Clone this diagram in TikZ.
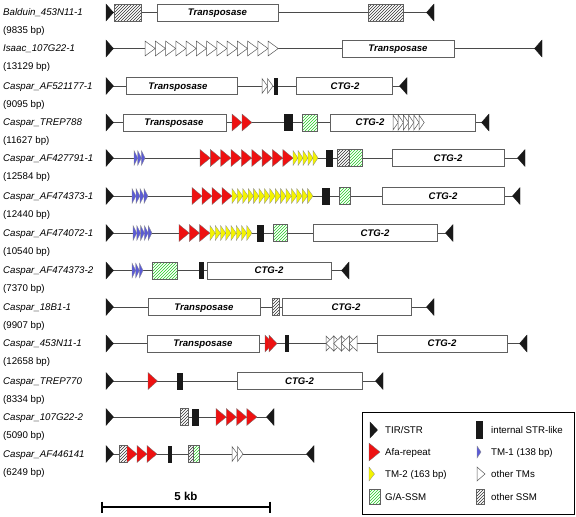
\documentclass[tikz,border=0pt]{standalone}
\usepackage{fontspec}
\setmainfont{Liberation Sans}
\usetikzlibrary{patterns}
\definecolor{afared}{HTML}{EE1111}
\definecolor{tmblue}{HTML}{5B5BD6}
\definecolor{tmyellow}{HTML}{F4F400}
\definecolor{ssmgreen}{HTML}{22CC22}
\definecolor{lineg}{HTML}{4A4A4A}
\definecolor{boxg}{HTML}{606060}
\tikzset{
  backbone/.style={draw=lineg, line width=0.8pt},
  genebox/.style={draw=boxg, fill=white, line width=0.8pt},
  tirshape/.style={fill=black!90, draw=black!90, line width=0.3pt},
  afa/.style={fill=afared, draw=black!55, line width=0.3pt},
  tmone/.style={fill=tmblue, draw=black!45, line width=0.3pt},
  tmtwo/.style={fill=tmyellow, draw=black!45, line width=0.3pt},
  tmother/.style={fill=white, draw=black!65, line width=0.5pt},
  strbar/.style={fill=black!90},
  namelabel/.style={font=\fontsize{9.7}{11}\selectfont\itshape, anchor=base west, inner sep=0pt},
  bplabel/.style={font=\fontsize{9.7}{11}\selectfont, anchor=base west, inner sep=0pt},
  boxtext/.style={font=\fontsize{9.6}{11}\selectfont\bfseries\itshape, anchor=base, inner sep=0pt},
  legtext/.style={font=\fontsize{9.7}{11}\selectfont, anchor=base west, inner sep=0pt},
  scaletext/.style={font=\fontsize{11.5}{13}\selectfont\bfseries, anchor=base, inner sep=0pt},
}
% right-pointing run: style, x0, y, n, w, h
\newcommand{\trirun}[6]{%
  \foreach \k in {1,...,#4}{%
    \path[#1] ({#2+(\k-1)*#5},{#3-#6/2}) -- ({#2+\k*#5},{#3}) -- ({#2+(\k-1)*#5},{#3+#6/2}) -- cycle;
  }%
}
% left-pointing run
\newcommand{\trirunL}[6]{%
  \foreach \k in {1,...,#4}{%
    \path[#1] ({#2+(\k-1)*#5},{#3}) -- ({#2+\k*#5},{#3-#6/2}) -- ({#2+\k*#5},{#3+#6/2}) -- cycle;
  }%
}
% gene box: name, x1, x2, y, text x, text
\newcommand{\genebox}[6]{%
  \draw[genebox] ({#2},{#4-8.5}) rectangle ({#3},{#4+8.5});
  \node[boxtext] (#1) at ({#5},{#4+3.4}) {#6};
}
% hatched box: x1, x2, y, colour, half height
\newcommand{\ssmbox}[5]{%
  \fill[white] ({#1},{#3-#5}) rectangle ({#2},{#3+#5});
  \fill[pattern=north east lines, pattern color=#4] ({#1},{#3-#5}) rectangle ({#2},{#3+#5});
  \draw[boxg, line width=0.6pt] ({#1},{#3-#5}) rectangle ({#2},{#3+#5});
}
% internal STR-like bar: x1, x2, y
\newcommand{\strbar}[3]{%
  \fill[strbar] ({#1},{#3-8.5}) rectangle ({#2},{#3+8.5});
}
% element row: name, y, x end, label, bp
\newcommand{\elemrow}[5]{%
  \coordinate (#1s) at (106,{#2});
  \coordinate (#1e) at ({#3},{#2});
  \draw[backbone] (#1s) -- (#1e);
  \path[tirshape] (106,{#2-8.5}) -- (113.5,{#2}) -- (106,{#2+8.5}) -- cycle;
  \path[tirshape] ({#3},{#2-8.5}) -- ({#3-7.5},{#2}) -- ({#3},{#2+8.5}) -- cycle;
  \node[namelabel] (#1n) at (3,{#2+3.4}) {#4};
  \node[bplabel] (#1b) at (3,{#2+21}) {(#5 bp)};
}
\begin{document}
\begin{tikzpicture}[x=1pt,y=-1pt]
\useasboundingbox (0,0) rectangle (576,517);

% 1 Balduin
\elemrow{ra}{12.5}{434}{Balduin\_453N11-1}{9835}
\ssmbox{114}{141}{12.5}{black!80}{8.5}
\genebox{raT}{157}{278}{12.5}{217.5}{Transposase}
\ssmbox{368}{403}{12.5}{black!80}{8.5}

% 2 Isaac
\elemrow{rb}{48.5}{542}{Isaac\_107G22-1}{13129}
\trirun{tmother}{145}{48.5}{13}{10.25}{15}
\genebox{rbT}{342}{454}{48.5}{398}{Transposase}

% 3 AF521177-1
\elemrow{rc}{86}{407}{Caspar\_AF521177-1}{9095}
\genebox{rcT}{126}{237}{86}{178}{Transposase}
\trirun{tmother}{262}{86}{2}{5.5}{15}
\strbar{274}{278}{86}
\genebox{rcC}{296}{392}{86}{345}{CTG-2}

% 4 TREP788
\elemrow{rd}{122.5}{489}{Caspar\_TREP788}{11627}
\genebox{rdT}{123}{226}{122.5}{174}{Transposase}
\trirun{afa}{232}{122.5}{2}{10}{17}
\strbar{284}{293}{122.5}
\ssmbox{302}{317}{122.5}{ssmgreen}{8.5}
\genebox{rdC}{330}{475}{122.5}{370}{CTG-2}
\trirun{tmother}{393}{122.5}{6}{5.2}{15}

% 5 AF427791-1
\elemrow{re}{158}{525}{Caspar\_AF427791-1}{12584}
\trirun{tmone}{134}{158}{3}{3.7}{15}
\trirun{afa}{200}{158}{9}{10.35}{17}
\trirun{tmtwo}{293}{158}{5}{5}{15}
\strbar{326}{333}{158}
\ssmbox{337}{349}{158}{black!80}{8.5}
\ssmbox{349}{362}{158}{ssmgreen}{8.5}
\genebox{reC}{392}{504}{158}{448}{CTG-2}

% 6 AF474373-1
\elemrow{rf}{196}{520}{Caspar\_AF474373-1}{12440}
\trirun{tmone}{132}{196}{4}{4}{15}
\trirun{afa}{192}{196}{4}{10}{17}
\trirun{tmtwo}{232}{196}{15}{5.4}{15}
\strbar{322}{330}{196}
\ssmbox{339}{350}{196}{ssmgreen}{8.5}
\genebox{rfC}{382}{504}{196}{443}{CTG-2}

% 7 AF474072-1
\elemrow{rg}{233}{453}{Caspar\_AF474072-1}{10540}
\trirun{tmone}{133}{233}{5}{3.8}{15}
\trirun{afa}{179}{233}{3}{10.3}{17}
\trirun{tmtwo}{210}{233}{8}{5.25}{15}
\strbar{257}{264}{233}
\ssmbox{273}{287}{233}{ssmgreen}{8.5}
\genebox{rgC}{313}{437}{233}{375}{CTG-2}

% 8 AF474373-2
\elemrow{rh}{270.5}{349}{Caspar\_AF474373-2}{7370}
\trirun{tmone}{132}{270.5}{3}{3.7}{15}
\ssmbox{152}{177}{270.5}{ssmgreen}{8.5}
\strbar{199}{204}{270.5}
\genebox{rhC}{207}{331}{270.5}{269}{CTG-2}

% 9 18B1-1
\elemrow{ri}{307}{434}{Caspar\_18B1-1}{9907}
\genebox{riT}{148}{260}{307}{204}{Transposase}
\ssmbox{272}{279}{307}{black!80}{8.5}
\genebox{riC}{282}{411}{307}{346}{CTG-2}

% 10 453N11-1
\elemrow{rj}{343.5}{527}{Caspar\_453N11-1}{12658}
\genebox{rjT}{147}{259}{343.5}{203}{Transposase}
\trirun{afa}{265}{343.5}{1}{8}{17}
\trirun{afa}{269}{343.5}{1}{8}{17}
\strbar{285}{289}{343.5}
\trirun{tmother}{326}{343.5}{4}{7.75}{15}
\trirunL{tmother}{326}{343.5}{4}{7.75}{15}
\genebox{rjC}{377}{507}{343.5}{442}{CTG-2}

% 11 TREP770
\elemrow{rk}{381}{383}{Caspar\_TREP770}{8334}
\trirun{afa}{148}{381}{1}{9.5}{17}
\strbar{177}{183}{381}
\genebox{rkC}{237}{362}{381}{299.5}{CTG-2}

% 12 107G22-2
\elemrow{rl}{417}{274}{Caspar\_107G22-2}{5090}
\ssmbox{180}{188}{417}{black!80}{8.5}
\strbar{192}{199}{417}
\trirun{afa}{216}{417}{4}{10.25}{17}

% 13 AF446141
\elemrow{rm}{454}{314}{Caspar\_AF446141}{6249}
\ssmbox{119}{127}{454}{black!80}{8.5}
\trirun{afa}{127}{454}{3}{10}{17}
\strbar{168}{172}{454}
\ssmbox{188}{193}{454}{black!80}{8.5}
\ssmbox{193}{199}{454}{ssmgreen}{8.5}
\trirun{tmother}{232}{454}{2}{5.5}{15}

% scale bar
\coordinate (sbL) at (102,507);
\coordinate (sbR) at (270,507);
\draw[line width=2pt] (sbL) -- (sbR);
\draw[line width=2pt] (102,501.5) -- (102,512.5);
\draw[line width=2pt] (270,501.5) -- (270,512.5);
\node[scaletext] (sbtext) at (186,500) {5 kb};

% legend
\draw[line width=1pt] (362,412) rectangle (574,514);
\path[tirshape] (370,422) -- (377.5,430) -- (370,438) -- cycle;
\node[legtext] (lg1) at (385,433.4) {TIR/STR};
\fill[strbar] (476,421) rectangle (483,439);
\node[legtext] (lg2) at (491,433.4) {internal STR-like};
\path[afa] (369,443) -- (380,452) -- (369,461) -- cycle;
\node[legtext] (lg3) at (385,455.4) {Afa-repeat};
\path[tmone] (477,446) -- (481,452) -- (477,458) -- cycle;
\node[legtext] (lg4) at (491,455.4) {TM-1 (138 bp)};
\path[tmtwo] (369,467) -- (374.5,474) -- (369,481) -- cycle;
\node[legtext] (lg5) at (385,477.4) {TM-2 (163 bp)};
\path[tmother] (477,467) -- (485,474) -- (477,481) -- cycle;
\node[legtext] (lg6) at (491,477.4) {other TMs};
\ssmbox{369}{380}{497}{ssmgreen}{7.5}
\node[legtext] (lg7) at (385,500.4) {G/A-SSM};
\ssmbox{476}{484}{497}{black!80}{7.5}
\node[legtext] (lg8) at (491,500.4) {other SSM};
\end{tikzpicture}
\end{document}
